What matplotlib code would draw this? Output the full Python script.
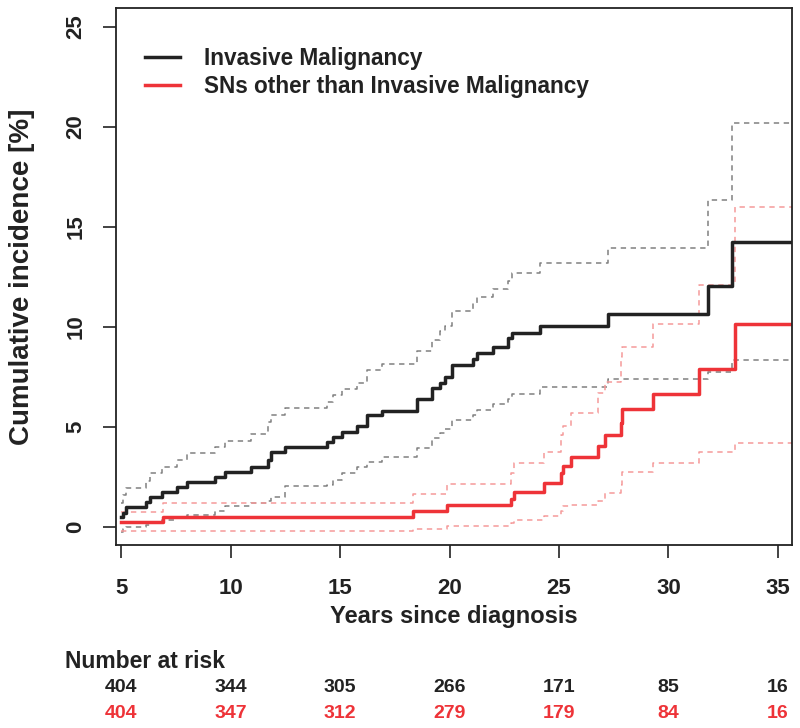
import matplotlib
matplotlib.use("Agg")
import matplotlib.pyplot as plt
import numpy as np
from matplotlib.transforms import blended_transform_factory

plt.rcParams['font.family'] = ['Liberation Sans', 'DejaVu Sans']
plt.rcParams['font.weight'] = 'bold'

# ---- Invasive malignancy (black) ----
im_time = [5.0, 5.1, 5.23, 6.14, 6.32, 6.86, 7.54, 8.03, 9.29, 9.75, 10.92, 11.73, 11.84,
           12.49, 14.39, 14.7, 15.08, 15.76, 16.22, 16.9, 18.53, 19.19, 19.57, 19.79, 20.13,
           21.06, 21.24, 22.0, 22.66, 22.84, 24.13, 27.25, 31.79, 32.91]
im_est = [0.48, 0.68, 1.02, 1.27, 1.48, 1.77, 1.98, 2.27, 2.48, 2.75, 2.98, 3.35, 3.73,
          3.98, 4.23, 4.5, 4.77, 5.05, 5.6, 5.82, 6.38, 6.93, 7.22, 7.48, 8.1,
          8.4, 8.68, 9.02, 9.43, 9.72, 10.05, 10.63, 12.07, 14.27]
im_upper = [1.22, 1.6, 1.97, 2.3, 2.68, 3.02, 3.35, 3.68, 3.98, 4.32, 4.65, 5.27, 5.6,
            5.93, 6.27, 6.6, 6.88, 7.2, 7.85, 8.15, 8.82, 9.35, 9.8, 10.05, 10.82,
            11.18, 11.52, 11.88, 12.3, 12.72, 13.18, 13.93, 16.35, 20.18]
im_lower = [-0.23, -0.1, 0.02, 0.1, 0.2, 0.35, 0.52, 0.6, 0.8, 1.05, 1.2, 1.3, 1.5,
            2.05, 2.1, 2.35, 2.72, 3.0, 3.27, 3.52, 3.97, 4.43, 4.7, 4.9, 5.35,
            5.6, 5.85, 6.13, 6.4, 6.65, 7.02, 7.38, 7.75, 8.35]

# ---- SNs other than invasive malignancy (red) ----
sn_time = [5.0, 6.93, 18.32, 19.9, 22.81, 22.95, 24.33, 25.09, 25.2, 25.55, 26.77, 27.1,
           27.83, 27.89, 29.31, 31.41, 33.04]
sn_est = [0.27, 0.52, 0.8, 1.1, 1.38, 1.77, 2.22, 2.68, 3.05, 3.52, 4.07, 4.62,
          5.2, 5.9, 6.63, 7.9, 10.13]
sn_upper = [0.77, 1.18, 1.65, 2.13, 2.7, 3.18, 3.77, 4.6, 5.05, 5.68, 6.7, 7.27,
            8.5, 9.02, 10.15, 12.1, 16.02]
sn_lower = [-0.18, -0.18, -0.1, 0.05, 0.2, 0.35, 0.55, 0.8, 1.05, 1.1, 1.3, 1.68,
            2.1, 2.73, 3.22, 3.73, 4.22]

x_ticks = [5, 10, 15, 20, 25, 30, 35]
y_ticks = [0, 5, 10, 15, 20, 25]
risk_im = [404, 344, 305, 266, 171, 85, 16]
risk_sn = [404, 347, 312, 279, 179, 84, 16]
series_labels = ["Invasive Malignancy", "SNs other than Invasive Malignancy"]

BLACK = '#222222'
RED = '#EE3338'
GREY = '#808080'
PINK = '#F59A9A'
X_END = 36.0

fig = plt.figure(figsize=(8, 7.28), dpi=100)
AX_L, AX_R, AX_T, AX_B = 116, 792, 8, 545
ax = fig.add_axes([AX_L/800, 1-AX_B/728, (AX_R-AX_L)/800, (AX_B-AX_T)/728])

def step(t, v, **kw):
    tt = list(t) + [X_END]
    vv = list(v) + [v[-1]]
    ax.step(tt, vv, where='post', **kw)

dash = (0, (3.5, 3))
step(im_time, im_upper, color=GREY, lw=1.1, ls=dash)
step(im_time, im_lower, color=GREY, lw=1.1, ls=dash)
step(sn_time, sn_upper, color=PINK, lw=1.1, ls=dash)
step(sn_time, sn_lower, color=PINK, lw=1.1, ls=dash)
step(im_time, im_est, color=BLACK, lw=2.5, label=series_labels[0])
step(sn_time, sn_est, color=RED, lw=2.5, label=series_labels[1])

ax.set_xlim(4.77, 35.64)
ax.set_ylim(-0.9, 25.95)
ax.set_xticks(x_ticks)
ax.set_yticks(y_ticks)
ax.tick_params(direction='out', length=9.5, width=1.2, labelsize=16, colors=BLACK)
ax.tick_params(axis='x', pad=14)
ax.tick_params(axis='y', pad=12)
for lab in ax.get_yticklabels():
    lab.set_rotation(90)
    lab.set_va('center')
for lab in ax.get_xticklabels() + ax.get_yticklabels():
    lab.set_fontweight('bold')
for s in ax.spines.values():
    s.set_linewidth(1.3)
    s.set_color(BLACK)

H = AX_B - AX_T
W = AX_R - AX_L
ax.set_xlabel("Years since diagnosis", fontsize=17, fontweight='bold', color=BLACK)
ax.xaxis.label.set_va('center')
ax.xaxis.set_label_coords(0.5, (AX_B - 617) / H)
ax.set_ylabel("Cumulative incidence [%]", fontsize=20, fontweight='bold', color=BLACK)
ax.yaxis.label.set_va('center')
ax.yaxis.set_label_coords((22 - AX_L) / W, 0.5)

leg = ax.legend(loc='upper left', bbox_to_anchor=(0.013, 0.966), frameon=False,
                handlelength=1.55, handletextpad=1.05, labelspacing=0.25,
                prop={'weight': 'bold', 'size': 16.3})
for t in leg.get_texts():
    t.set_color(BLACK)

tr = blended_transform_factory(ax.transData, fig.transFigure)
fig.text(65/800, 1-661/728, "Number at risk", fontsize=16.5, fontweight='bold',
         color=BLACK, ha='left', va='center')
for x, a, b in zip(x_ticks, risk_im, risk_sn):
    ax.text(x, 1-687/728, str(a), transform=tr, ha='center', va='center',
            fontsize=14, fontweight='bold', color=BLACK, clip_on=False)
    ax.text(x, 1-714/728, str(b), transform=tr, ha='center', va='center',
            fontsize=14, fontweight='bold', color=RED, clip_on=False)

fig.savefig("out.png", dpi=100)
